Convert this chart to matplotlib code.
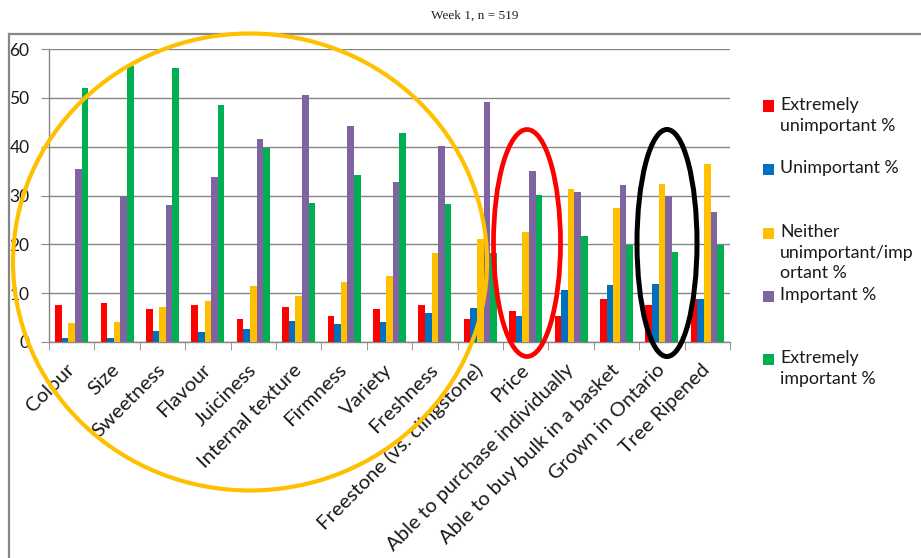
import numpy as np
import matplotlib
matplotlib.use("Agg")
import matplotlib.pyplot as plt
from matplotlib.patches import Ellipse, Rectangle
from matplotlib.lines import Line2D

plt.rcParams["font.family"] = ["Lato", "DejaVu Sans"]

attributes = [
    "Colour", "Size", "Sweetness", "Flavour", "Juiciness", "Internal texture",
    "Firmness", "Variety", "Freshness", "Freestone (vs. clingstone)", "Price",
    "Able to purchase individually", "Able to buy bulk in a basket",
    "Grown in Ontario", "Tree Ripened",
]
extremely_unimportant = [7.5, 8.0, 6.7, 7.5, 4.7, 7.2, 5.4, 6.7, 7.5, 4.8, 6.4, 5.4, 8.8, 7.6, 8.8]
unimportant = [0.9, 0.9, 2.2, 2.0, 2.6, 4.4, 3.7, 4.0, 5.9, 6.9, 5.4, 10.6, 11.7, 11.9, 8.8]
neither = [3.8, 4.0, 7.1, 8.3, 11.4, 9.4, 12.2, 13.5, 18.3, 21.1, 22.6, 31.3, 27.4, 32.3, 36.4]
important = [35.5, 29.9, 28.0, 33.8, 41.6, 50.6, 44.2, 32.7, 40.1, 49.1, 35.1, 30.8, 32.1, 29.9, 26.7]
extremely_important = [52.1, 56.6, 56.2, 48.5, 39.8, 28.4, 34.1, 42.9, 28.2, 18.3, 30.2, 21.8, 19.9, 18.5, 19.8]

series_labels = [
    "Extremely\nunimportant %",
    "Unimportant %",
    "Neither\nunimportant/imp\nortant %",
    "Important %",
    "Extremely\nimportant %",
]
series_colors = ["#FF0000", "#0070C0", "#FFC000", "#8064A2", "#00B050"]
series = [extremely_unimportant, unimportant, neither, important, extremely_important]

W, H = 921, 558
fig = plt.figure(figsize=(W / 100, H / 100), dpi=100)
fig.patch.set_facecolor("white")

# plot area in pixel terms
left, right, top, bottom = 49, 730, 49, 342
ax = fig.add_axes([left / W, 1 - bottom / H, (right - left) / W, (bottom - top) / H])

n = len(attributes)
x = np.arange(n)
bar_w = 0.145
for i, (vals, color) in enumerate(zip(series, series_colors)):
    ax.bar(x + (i - 2) * bar_w, vals, width=bar_w, color=color, zorder=3)

grid_col = "#868686"
ax.set_xlim(-0.5, n - 0.5)
ax.set_ylim(0, 60)
ax.set_yticks(range(0, 61, 10))
ax.yaxis.grid(True, color=grid_col, linewidth=1.0, zorder=0)
ax.set_axisbelow(True)
for s in ("top", "right"):
    ax.spines[s].set_visible(False)
for s in ("left", "bottom"):
    ax.spines[s].set_color(grid_col)
    ax.spines[s].set_linewidth(1.0)

ax.set_xticks(x)
ax.set_xticklabels(attributes, rotation=45, ha="right", va="center",
                   rotation_mode="anchor", fontsize=14.6, color="#1a1a1a")
ax.set_xticks(np.arange(-0.5, n, 1.0), minor=True)
ax.tick_params(axis="x", which="major", length=0, pad=18)
ax.tick_params(axis="x", which="minor", length=6, color=grid_col, direction="out")
ax.tick_params(axis="y", length=6, color=grid_col, pad=8, labelsize=12.5, labelcolor="#1a1a1a")

# chart frame, cropped on the right and bottom
fx = 9 / W
fy = 1 - 34 / H
fig.add_artist(Line2D([fx, fx], [0, fy], transform=fig.transFigure, color=grid_col, lw=1.6))
fig.add_artist(Line2D([fx, 1], [fy, fy], transform=fig.transFigure, color=grid_col, lw=1.6))

fig.text(475 / W, 1 - 16 / H, "Week 1, n = 519", ha="center", va="center",
         fontsize=9.5, family=["Liberation Serif", "DejaVu Serif"], color="#222222")

# legend
leg_y = [106, 169, 233, 296, 359]
for yy, label, color in zip(leg_y, series_labels, series_colors):
    fig.add_artist(Rectangle((763 / W, 1 - (yy + 5.5) / H), 11 / W, 11 / H,
                             transform=fig.transFigure, facecolor=color, edgecolor="none"))
    fig.text(780 / W, 1 - (yy - 9) / H, label, ha="left", va="top", fontsize=12.8,
             linespacing=1.35, color="#1a1a1a")

# highlight rings
rings = [
    ((250, 262), 474, 457, "#FFC000", 3.0),
    ((527, 243), 67, 227, "#FF0000", 3.4),
    ((667, 243), 60, 227, "#000000", 3.6),
]
for (cx, cy), w, h, color, lw in rings:
    fig.add_artist(Ellipse((cx / W, 1 - cy / H), w / W, h / H, transform=fig.transFigure,
                           fill=False, edgecolor=color, linewidth=lw, zorder=5))

fig.savefig("out.png", dpi=100)
